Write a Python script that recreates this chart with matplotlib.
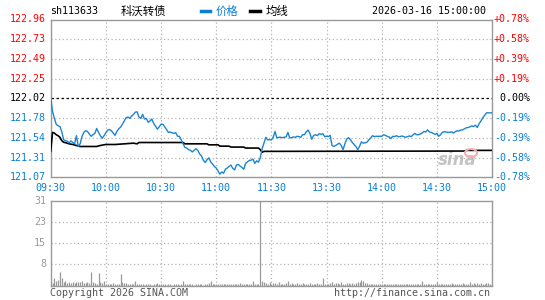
import matplotlib
matplotlib.use('Agg')
import matplotlib.pyplot as plt
import matplotlib.transforms as mtransforms

# prices per minute, 09:30-11:30 then 13:00-15:00 (241 points)
price = [
    122.020, 121.860, 121.775, 121.704, 121.685, 121.677, 121.618, 121.519, 121.507, 121.499,
    121.480, 121.503, 121.484, 121.468, 121.566, 121.436, 121.468, 121.555, 121.606, 121.626,
    121.618, 121.586, 121.559, 121.578, 121.594, 121.653, 121.606, 121.566, 121.535, 121.566,
    121.602, 121.634, 121.641, 121.626, 121.598, 121.570, 121.618, 121.649, 121.669, 121.704,
    121.744, 121.783, 121.791, 121.775, 121.803, 121.823, 121.850, 121.854, 121.791, 121.775,
    121.823, 121.767, 121.775, 121.728, 121.744, 121.767, 121.716, 121.681, 121.645, 121.673,
    121.704, 121.704, 121.673, 121.641, 121.606, 121.610, 121.602, 121.594, 121.602, 121.559,
    121.559, 121.515, 121.468, 121.425, 121.417, 121.397, 121.389, 121.370, 121.389, 121.409,
    121.389, 121.346, 121.322, 121.271, 121.243, 121.275, 121.299, 121.251, 121.224, 121.196,
    121.176, 121.141, 121.102, 121.129, 121.113, 121.161, 121.176, 121.196, 121.212, 121.173,
    121.153, 121.212, 121.220, 121.200, 121.184, 121.161, 121.232, 121.251, 121.267, 121.271,
    121.283, 121.232, 121.263, 121.247, 121.303, 121.409, 121.480, 121.547, 121.515, 121.519,
    121.515, 121.547, 121.618, 121.539, 121.547, 121.547, 121.543, 121.547, 121.551, 121.606,
    121.539, 121.543, 121.551, 121.547, 121.559, 121.555, 121.547, 121.578, 121.578, 121.614,
    121.634, 121.594, 121.523, 121.570, 121.578, 121.566, 121.590, 121.582, 121.590, 121.555,
    121.559, 121.555, 121.570, 121.448, 121.436, 121.448, 121.464, 121.476, 121.448, 121.397,
    121.468, 121.527, 121.543, 121.519, 121.484, 121.460, 121.436, 121.397, 121.440, 121.492,
    121.476, 121.480, 121.488, 121.515, 121.539, 121.566, 121.555, 121.559, 121.559, 121.559,
    121.559, 121.578, 121.570, 121.559, 121.551, 121.531, 121.559, 121.555, 121.566, 121.555,
    121.555, 121.563, 121.555, 121.547, 121.555, 121.563, 121.555, 121.574, 121.594, 121.578,
    121.578, 121.586, 121.598, 121.618, 121.610, 121.637, 121.610, 121.606, 121.594, 121.582,
    121.594, 121.559, 121.578, 121.606, 121.614, 121.610, 121.606, 121.606, 121.614, 121.598,
    121.614, 121.626, 121.622, 121.634, 121.637, 121.649, 121.661, 121.665, 121.673, 121.685,
    121.677, 121.693, 121.665, 121.712, 121.744, 121.783, 121.811, 121.842, 121.842, 121.842,
    121.842,
]

# average line, read at these minutes
avg_minutes = [0, 1, 2, 3, 4, 5, 6, 7, 9, 10, 12, 14, 16, 25, 27, 30, 35, 40, 45, 47, 48,
               72, 73, 85, 86, 91, 92, 97, 98, 105, 106, 113, 114, 115, 116, 225, 226, 240]
avg_values = [121.377, 121.606, 121.598, 121.578, 121.566, 121.547, 121.507, 121.488, 121.476,
              121.468, 121.460, 121.448, 121.436, 121.436, 121.448, 121.460, 121.460, 121.468,
              121.476, 121.468, 121.484, 121.484, 121.468, 121.468, 121.456, 121.456, 121.440,
              121.440, 121.429, 121.429, 121.417, 121.417, 121.397, 121.366, 121.377, 121.381,
              121.389, 121.389]

volume = [
    1.2, 0.8, 2.8, 1.8, 2.0, 4.8, 2.8, 1.2, 1.8, 0.8,
    1.2, 0.8, 1.2, 1.0, 1.2, 1.4, 1.2, 1.5, 0.8, 1.0,
    1.2, 0.9, 5.0, 1.2, 0.8, 0.6, 4.6, 1.2, 0.8, 1.8,
    0.5, 0.6, 0.4, 0.6, 0.8, 0.6, 0.6, 0.4, 4.1, 1.2,
    0.8, 0.9, 0.6, 0.6, 0.5, 0.4, 1.5, 0.4, 0.5, 0.6,
    0.4, 0.3, 0.6, 0.4, 0.5, 0.3, 0.4, 0.6, 0.8, 0.4,
    0.5, 0.6, 0.4, 0.3, 0.5, 0.4, 0.3, 0.4, 0.5, 0.4,
    0.3, 0.4, 1.6, 0.5, 0.4, 0.6, 0.4, 0.5, 0.3, 0.4,
    0.5, 0.4, 0.6, 0.3, 0.4, 0.5, 0.8, 1.5, 0.6, 0.4,
    0.5, 0.4, 0.6, 0.5, 0.6, 0.4, 0.6, 0.5, 0.4, 0.6,
    0.5, 0.7, 0.6, 0.8, 0.5, 0.6, 0.5, 0.6, 0.4, 0.5,
    1.8, 0.6, 0.5, 0.5, 31.0, 1.5, 1.2, 0.8, 0.6, 1.2,
    0.6, 0.8, 1.0, 0.6, 1.2, 0.5, 0.7, 0.6, 0.8, 1.5,
    0.6, 0.8, 0.5, 0.6, 1.0, 0.5, 0.6, 0.8, 0.5, 0.7,
    0.6, 0.8, 0.5, 0.6, 0.7, 0.9, 0.6, 0.5, 2.7, 0.6,
    0.5, 0.6, 0.8, 1.2, 0.6, 1.0, 0.8, 0.6, 1.2, 0.7,
    0.6, 1.0, 0.8, 0.7, 1.0, 0.6, 0.9, 1.2, 1.4, 2.1,
    1.8, 0.8, 0.9, 0.6, 0.5, 0.6, 0.5, 0.4, 0.5, 0.6,
    0.4, 0.5, 0.6, 0.4, 0.5, 0.6, 0.5, 0.7, 0.5, 0.4,
    0.6, 0.5, 0.4, 0.6, 0.5, 0.6, 0.7, 0.5, 0.4, 0.6,
    0.5, 0.6, 1.5, 0.5, 0.4, 0.6, 0.5, 0.4, 0.5, 0.6,
    1.2, 0.6, 0.5, 0.7, 0.6, 0.5, 0.4, 0.6, 0.8, 0.5,
    0.6, 0.5, 0.7, 0.6, 0.8, 0.5, 0.6, 0.5, 1.2, 0.6,
    0.8, 0.6, 0.9, 0.7, 0.8, 0.6, 0.7, 1.0, 0.8, 0.6,
    0.5,
]

pre_close = 122.016
max_pct = 0.0078
time_labels = ['09:30', '10:00', '10:30', '11:00', '11:30', '13:30', '14:00', '14:30', '15:00']
left_labels = ['122.96', '122.73', '122.49', '122.25', '122.02', '121.78', '121.54', '121.31', '121.07']
right_labels = ['+0.78%', '+0.58%', '+0.39%', '+0.19%', ' 0.00%', '-0.19%', '-0.39%', '-0.58%', '-0.78%']
vol_max = 31
vol_labels = ['31', '23', '15', '8']

RED = '#ff0000'
BLUE = '#0b7fd2'
LINE_BLUE = '#1a85d0'
GRAY = '#999999'
GRID = '#b4b4b4'
MONO = 'DejaVu Sans Mono'
CJK = ['Noto Sans CJK SC', 'DejaVu Sans']
W, H = 545, 300


def fx(x):
    return x / W


def fy(y):
    return 1 - y / H


fig = plt.figure(figsize=(W / 100, H / 100), dpi=100)
fig.patch.set_facecolor('white')

L, R = 50.7, 492.0
ax = fig.add_axes([fx(L), fy(177.3), fx(R - L), (177.3 - 19.5) / H])
axv = fig.add_axes([fx(L), fy(285.5), fx(R - L), (285.5 - 201.0) / H])

span = pre_close * max_pct * 1.0
lo, hi = pre_close - span, pre_close + span
minutes = list(range(len(price)))

for a in (ax, axv):
    a.set_xlim(0, 240)
    a.set_xticks([])
    a.set_yticks([])
    for s in a.spines.values():
        s.set_color(GRAY)
        s.set_linewidth(1.0)
    for t in range(30, 240, 30):
        a.axvline(t, color=GRID, lw=0.9, ls=(0, (1, 2)), zorder=1)

ax.set_ylim(lo, hi)
levels = [hi - k * span / 4 for k in range(9)]
for k, lv in enumerate(levels):
    if k in (0, 8):
        continue
    if k == 4:
        ax.axhline(lv, color='black', lw=0.9, ls=(0, (2, 2)), zorder=2)
    else:
        ax.axhline(lv, color=GRID, lw=0.9, ls=(0, (1, 2)), zorder=1)

ax.plot(avg_minutes, avg_values, color='black', lw=1.2, zorder=3)
ax.plot(minutes, price, color=LINE_BLUE, lw=1.0, zorder=4)

# axis labels
for k, lv in enumerate(levels):
    col = RED if k < 4 else ('black' if k == 4 else BLUE)
    y = 19.5 + k * (177.3 - 19.5) / 8
    fig.text(fx(46), fy(y), left_labels[k], color=col, ha='right', va='center',
             family=MONO, fontsize=7.2)
    fig.text(fx(494), fy(y), right_labels[k], color=col, ha='left', va='center',
             family=MONO, fontsize=7.2)

for i, lab in enumerate(time_labels):
    x = L + i * (R - L) / 8
    fig.text(fx(x), fy(188), lab, color=BLUE, ha='center', va='center',
             family=MONO, fontsize=7.2)

# header
fig.text(fx(50), fy(11), 'sh113633', color='black', ha='left', va='center', family=MONO, fontsize=7.2)
fig.text(fx(121), fy(11), '科沃转债', color='black', ha='left', va='center', family=CJK, fontsize=8.2)
fig.add_artist(plt.Line2D([fx(201), fx(210)], [fy(11), fy(11)], color=BLUE, lw=2.5))
fig.text(fx(216), fy(11), '价格', color=BLUE, ha='left', va='center', family=CJK, fontsize=8.2)
fig.add_artist(plt.Line2D([fx(250), fx(260)], [fy(11), fy(11)], color='black', lw=2.5))
fig.text(fx(265.5), fy(11), '均线', color='black', ha='left', va='center', family=CJK, fontsize=8.2)
fig.text(fx(486), fy(11), '2026-03-16 15:00:00', color='black', ha='right', va='center',
         family=MONO, fontsize=7.2)

# sina watermark
ax.text(0.965, 0.11, 'sina', transform=ax.transAxes, ha='right', va='center',
        color='#c4c4c4', fontsize=12, fontweight='bold', style='italic', family='DejaVu Sans', zorder=0)
fig.add_artist(matplotlib.patches.Ellipse((fx(471), fy(153)), fx(12), 8 / H,
                                          facecolor='none', edgecolor='#f0b0b0', lw=1.5))

# volume panel
axv.set_ylim(0, vol_max)
for k in range(1, 4):
    axv.axhline(vol_max * k / 4, color=GRID, lw=0.9, ls=(0, (1, 2)), zorder=1)
axv.vlines(minutes, 0, volume, color=GRAY, lw=0.9, zorder=3)
for k, lab in enumerate(vol_labels):
    y = 201.0 + k * (285.5 - 201.0) / 4
    fig.text(fx(46), fy(y), lab, color=GRAY, ha='right', va='center', family=MONO, fontsize=7.2)

fig.text(fx(50), fy(292.5), 'Copyright 2026 SINA.COM', color='#555555', ha='left', va='center',
         family=MONO, fontsize=7.2)
fig.text(fx(490), fy(292.5), 'http://finance.sina.com.cn', color='#555555', ha='right', va='center',
         family=MONO, fontsize=7.2)

fig.savefig('out.png', dpi=100, facecolor='white')
